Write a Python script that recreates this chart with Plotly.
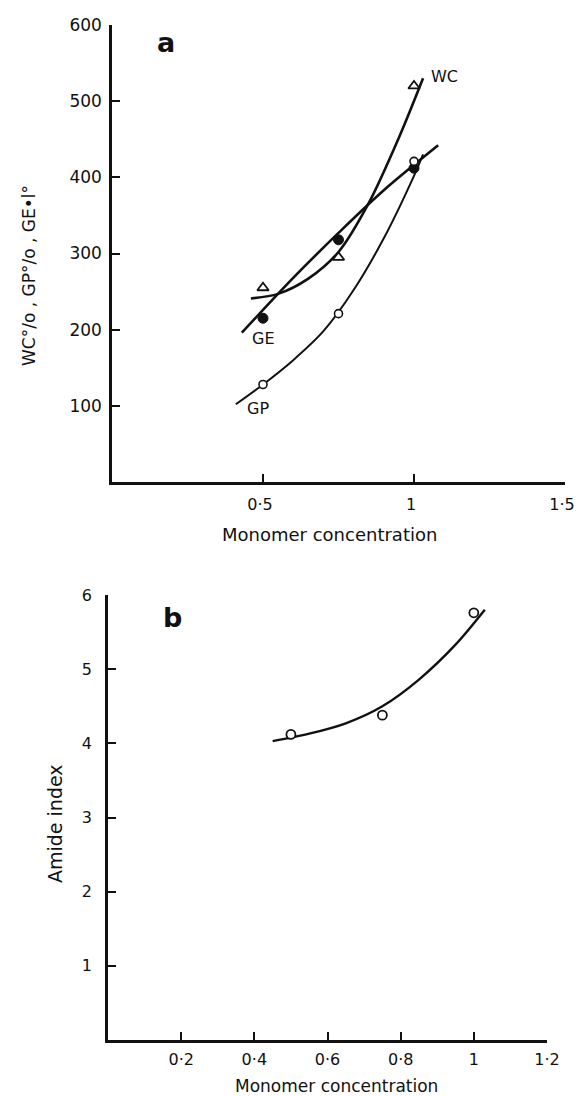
import plotly.graph_objects as go

# ---- panel a: swelling data vs monomer concentration ----
conc_a = [0.5, 0.75, 1.0]
wc_pct = [255, 295, 520]
ge_val = [215, 318, 412]
gp_pct = [128, 221, 421]

# hand-drawn smoothing curves (control points)
wc_curve_x = [0.46, 0.55, 0.65, 0.75, 0.85, 0.95, 1.03]
wc_curve_y = [241, 247, 267, 302, 366, 452, 530]
ge_curve_x = [0.43, 0.6, 0.75, 0.9, 1.08]
ge_curve_y = [196, 268, 327, 383, 442]
gp_curve_x = [0.41, 0.5, 0.6, 0.7, 0.8, 0.9, 1.0, 1.03]
gp_curve_y = [102, 128, 160, 198, 252, 320, 402, 430]

# ---- panel b: amide index ----
conc_b = [0.5, 0.75, 1.0]
amide = [4.12, 4.38, 5.76]
amide_curve_x = [0.45, 0.55, 0.65, 0.75, 0.85, 0.95, 1.03]
amide_curve_y = [4.03, 4.13, 4.27, 4.50, 4.86, 5.33, 5.8]

xa_ticks = [0.5, 1.0, 1.5]
xa_text = ["0·5", "1", "1·5"]
ya_ticks = [100, 200, 300, 400, 500, 600]
xb_ticks = [0.2, 0.4, 0.6, 0.8, 1.0, 1.2]
xb_text = ["0·2", "0·4", "0·6", "0·8", "1", "1·2"]
yb_ticks = [1, 2, 3, 4, 5, 6]

W, H = 577, 1096
FONT = "DejaVu Sans"
INK = "#111111"


def px(x):
    return x / W


def py(y):
    return 1 - y / H


fig = go.Figure()

line_kw = dict(shape="spline", smoothing=0.9)

# panel a curves
fig.add_trace(go.Scatter(x=wc_curve_x, y=wc_curve_y, mode="lines",
                         line=dict(color=INK, width=2.6, **line_kw),
                         xaxis="x", yaxis="y", hoverinfo="skip"))
fig.add_trace(go.Scatter(x=ge_curve_x, y=ge_curve_y, mode="lines",
                         line=dict(color=INK, width=2.6, **line_kw),
                         xaxis="x", yaxis="y", hoverinfo="skip"))
fig.add_trace(go.Scatter(x=gp_curve_x, y=gp_curve_y, mode="lines",
                         line=dict(color=INK, width=2.0, **line_kw),
                         xaxis="x", yaxis="y", hoverinfo="skip"))

# panel a markers
fig.add_trace(go.Scatter(x=conc_a, y=wc_pct, mode="markers", name="WC",
                         marker=dict(symbol="triangle-up", size=10, color="white",
                                     line=dict(color=INK, width=1.8)),
                         xaxis="x", yaxis="y"))
fig.add_trace(go.Scatter(x=conc_a, y=ge_val, mode="markers", name="GE",
                         marker=dict(symbol="circle", size=10, color=INK,
                                     line=dict(color=INK, width=1)),
                         xaxis="x", yaxis="y"))
fig.add_trace(go.Scatter(x=conc_a, y=gp_pct, mode="markers", name="GP",
                         marker=dict(symbol="circle", size=8, color="white",
                                     line=dict(color=INK, width=1.6)),
                         xaxis="x", yaxis="y"))

# panel b
fig.add_trace(go.Scatter(x=amide_curve_x, y=amide_curve_y, mode="lines",
                         line=dict(color=INK, width=2.4, **line_kw),
                         xaxis="x2", yaxis="y2", hoverinfo="skip"))
fig.add_trace(go.Scatter(x=conc_b, y=amide, mode="markers", name="Amide index",
                         marker=dict(symbol="circle", size=9, color="white",
                                     line=dict(color=INK, width=1.8)),
                         xaxis="x2", yaxis="y2"))

axis_common = dict(showgrid=False, zeroline=False, showline=True, linecolor=INK,
                   linewidth=2.5, ticks="inside", ticklen=8, tickwidth=1.5,
                   tickcolor=INK, fixedrange=True, automargin=False,
                   ticklabeloverflow="allow")

fig.update_layout(
    width=W, height=H,
    margin=dict(l=0, r=0, t=0, b=0),
    paper_bgcolor="white", plot_bgcolor="white",
    showlegend=False,
    xaxis=dict(domain=[px(112), px(565)], range=[0, 1.5], anchor="y",
               tickvals=xa_ticks, ticktext=xa_text, ticklabelstandoff=6,
               ticklabelshift=-3,
               tickfont=dict(family=FONT, size=16, color=INK), **axis_common),
    yaxis=dict(domain=[py(482), py(25)], range=[0, 600], anchor="x",
               tickvals=ya_ticks, ticklabelstandoff=4,
               tickfont=dict(family=FONT, size=17, color=INK), **axis_common),
    xaxis2=dict(domain=[px(108), px(547)], range=[0, 1.2], anchor="y2",
                tickvals=xb_ticks, ticktext=xb_text, ticklabelstandoff=3,
                tickfont=dict(family=FONT, size=16, color=INK), **axis_common),
    yaxis2=dict(domain=[py(1040), py(595)], range=[0, 6], anchor="x2",
                tickvals=yb_ticks, ticklabelstandoff=10,
                tickfont=dict(family=FONT, size=16, color=INK), **axis_common),
)

mid = dict(xanchor="center", yanchor="middle", showarrow=False)
annots = [
    # panel letters
    dict(x=0.18, y=577, xref="x", yref="y", text="<b>a</b>",
         font=dict(family=FONT, size=27, color=INK), **mid),
    dict(x=0.175, y=5.7, xref="x2", yref="y2", text="<b>b</b>",
         font=dict(family=FONT, size=27, color=INK), **mid),
    # curve labels
    dict(x=1.05, y=532, xref="x", yref="y", text="WC", xanchor="left",
         yanchor="middle", showarrow=False,
         font=dict(family=FONT, size=16, color=INK)),
    dict(x=0.5, y=189, xref="x", yref="y", text="GE",
         font=dict(family=FONT, size=16, color=INK), **mid),
    dict(x=0.485, y=97, xref="x", yref="y", text="GP",
         font=dict(family=FONT, size=16, color=INK), **mid),
    # axis titles
    dict(x=px(330), y=py(535), xref="paper", yref="paper",
         text="Monomer concentration",
         font=dict(family=FONT, size=18, color=INK), **mid),
    dict(x=px(336), y=py(1086), xref="paper", yref="paper",
         text="Monomer concentration",
         font=dict(family=FONT, size=17, color=INK), **mid),
    dict(x=px(29), y=py(276), xref="paper", yref="paper",
         text="WC°/o , GP°/o , GE•l°", textangle=-90,
         font=dict(family=FONT, size=17, color=INK), **mid),
    dict(x=px(55), y=py(824), xref="paper", yref="paper",
         text="Amide index", textangle=-90,
         font=dict(family=FONT, size=19, color=INK), **mid),
]
fig.update_layout(annotations=annots)

fig.write_html("out.html")
